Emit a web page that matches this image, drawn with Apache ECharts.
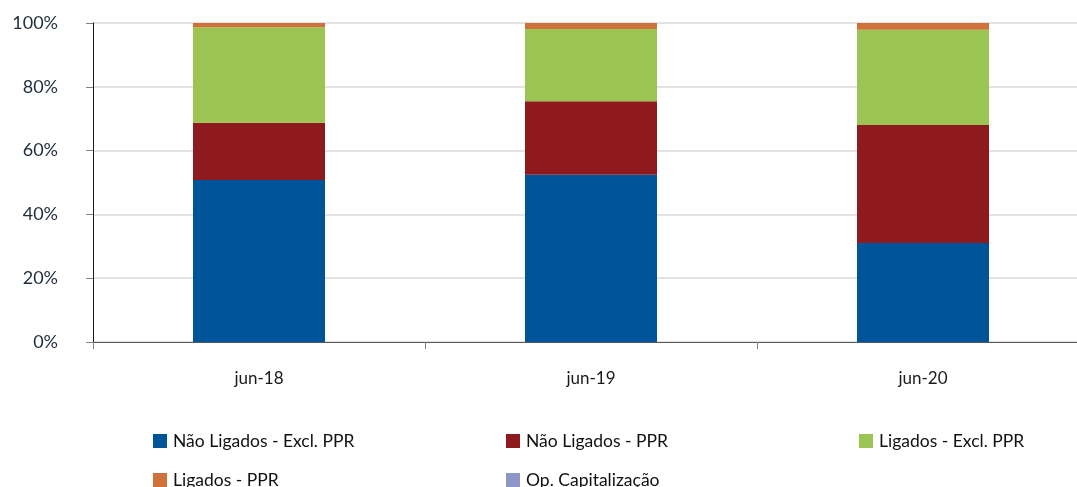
<!DOCTYPE html>
<html>
<head>
<meta charset="utf-8">
<script src="https://cdn.jsdelivr.net/npm/echarts@6/dist/echarts.min.js"></script>
<style>
  html, body { margin: 0; padding: 0; background: #fff; overflow: hidden; }
  /* o gráfico original é cortado à direita, por isso o div é um pouco mais largo */
  #chart { width: 1089px; height: 487px; }
</style>
</head>
<body>
<div id="chart"></div>
<script>
// categorias e valores (% do total)
var categories = ['jun-18', 'jun-19', 'jun-20'];
var naoLigadosExcl = [50.8, 52.4, 31.0];
var naoLigadosPPR = [17.9, 23.1, 37.0];
var ligadosExcl = [30.0, 22.6, 29.9];
var ligadosPPR = [1.3, 1.9, 2.1];
var opCapitalizacao = [0, 0, 0];
var yTicks = [0, 20, 40, 60, 80, 100];

var seriesNames = ['Não Ligados - Excl. PPR', 'Não Ligados - PPR', 'Ligados - Excl. PPR', 'Ligados - PPR', 'Op. Capitalização'];
var seriesData = [naoLigadosExcl, naoLigadosPPR, ligadosExcl, ligadosPPR, opCapitalizacao];
var colors = ['#00559a', '#8f1a1e', '#9bc452', '#d0703a', '#8e96c8'];

var font = 'Lato, "Open Sans", sans-serif';

var myChart = echarts.init(document.getElementById('chart'));

var legendPos = [
	{ left: 148, top: 427 },
	{ left: 501, top: 427 },
	{ left: 854, top: 427 },
	{ left: 148, top: 466 },
	{ left: 501, top: 466 }
];

var option = {
	animation: false,
	color: colors,
	grid: {
		left: 93,
		right: 0,
		top: 23,
		bottom: 145
	},
	legend: [],
	xAxis: {
		type: 'category',
		data: categories,
		axisLine: { lineStyle: { color: '#595959', width: 1 } },
		axisTick: { show: true, length: 7, lineStyle: { color: '#808080' } },
		axisLabel: { margin: 28, fontSize: 17, color: '#1a1a1a', fontFamily: font }
	},
	yAxis: {
		type: 'value',
		min: 0,
		max: 100,
		interval: 20,
		axisLine: { show: true, lineStyle: { color: '#1a1a1a', width: 1 } },
		axisTick: { show: true, length: 7, lineStyle: { color: '#808080' } },
		splitLine: { lineStyle: { color: '#d9d9d9', width: 1.5 } },
		axisLabel: {
			margin: 35,
			fontSize: 18,
			color: '#1f2d3d',
			fontFamily: font,
			formatter: function(v) { return yTicks.indexOf(v) >= 0 ? v + '%' : ''; }
		}
	},
	series: []
};

seriesNames.forEach(function(name, i) {
	option.series.push({
		name: name,
		type: 'bar',
		stack: 'total',
		barWidth: 132,
		data: seriesData[i]
	});
	option.legend.push({
		data: [name],
		left: legendPos[i].left,
		top: legendPos[i].top,
		itemWidth: 14,
		itemHeight: 14,
		itemGap: 0,
		icon: 'rect',
		textStyle: { fontSize: 17.5, color: '#111', fontFamily: font, padding: [0, 0, 0, 1] }
	});
});

myChart.setOption(option);
</script>
</body>
</html>
